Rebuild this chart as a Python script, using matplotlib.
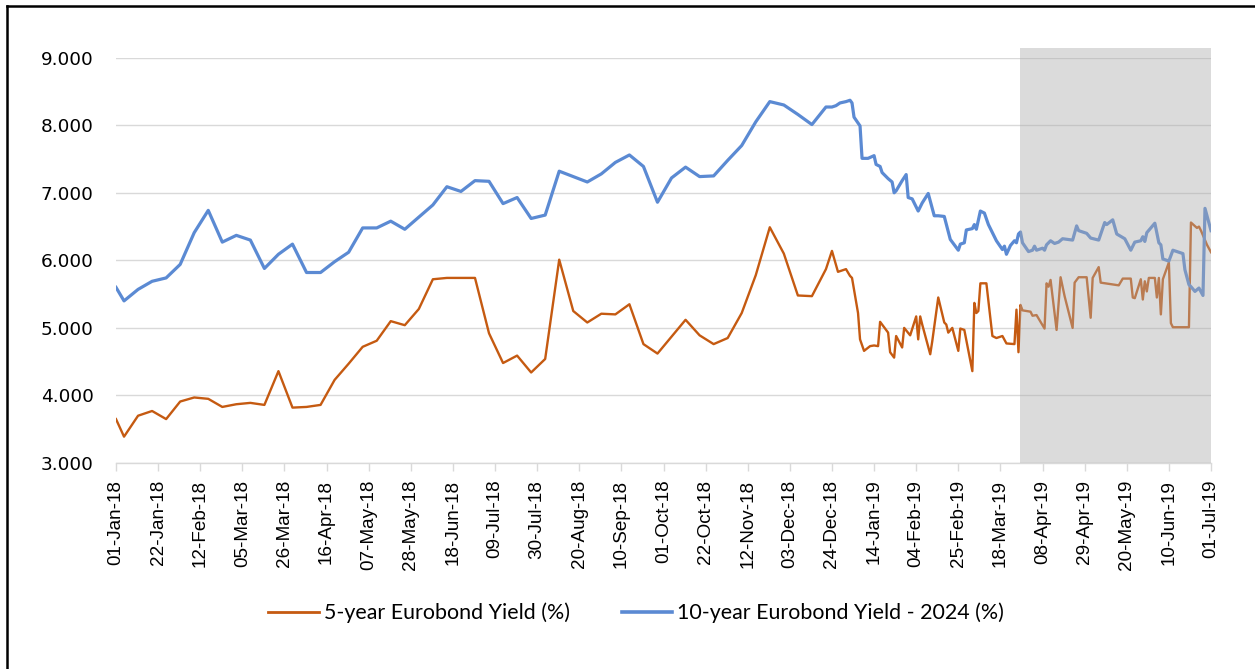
import matplotlib
matplotlib.use("Agg")
import matplotlib.pyplot as plt
import matplotlib.dates as mdates
from matplotlib.lines import Line2D
from matplotlib.patches import Rectangle
import pandas as pd

# ---------------- data ----------------
weekly_dates = [
    "2018-01-01", "2018-01-05", "2018-01-12", "2018-01-19", "2018-01-26",
    "2018-02-02", "2018-02-09", "2018-02-16", "2018-02-23",
    "2018-03-02", "2018-03-09", "2018-03-16", "2018-03-23", "2018-03-30",
    "2018-04-06", "2018-04-13", "2018-04-20", "2018-04-27",
    "2018-05-04", "2018-05-11", "2018-05-18", "2018-05-25",
    "2018-06-01", "2018-06-08", "2018-06-15", "2018-06-22", "2018-06-29",
    "2018-07-06", "2018-07-13", "2018-07-20", "2018-07-27",
    "2018-08-03", "2018-08-10", "2018-08-17", "2018-08-24", "2018-08-31",
    "2018-09-07", "2018-09-14", "2018-09-21", "2018-09-28",
    "2018-10-05", "2018-10-12", "2018-10-19", "2018-10-26",
    "2018-11-02", "2018-11-09", "2018-11-16", "2018-11-23", "2018-11-30",
    "2018-12-07", "2018-12-14", "2018-12-21",
]
yield10_weekly = [
    5.60, 5.40, 5.57, 5.69, 5.74, 5.94, 6.41, 6.74, 6.27, 6.37,
    6.30, 5.88, 6.09, 6.24, 5.82, 5.82, 5.98, 6.12, 6.48, 6.48,
    6.58, 6.46, 6.64, 6.82, 7.09, 7.02, 7.18,
    7.17, 6.84, 6.93, 6.62, 6.67, 7.32, 7.24, 7.16, 7.28, 7.45,
    7.56, 7.39, 6.86, 7.22, 7.38, 7.24, 7.25, 7.48, 7.70, 8.05,
    8.35, 8.30, 8.16, 8.01, 8.27,
]
yield5_weekly = [
    3.65, 3.39, 3.70, 3.77, 3.65, 3.91, 3.97, 3.95, 3.83, 3.87,
    3.89, 3.86, 4.36, 3.82, 3.83, 3.86, 4.23, 4.47, 4.72, 4.81,
    5.10, 5.04, 5.28, 5.72, 5.74, 5.74, 5.74,
    4.92, 4.48, 4.59, 4.34, 4.54, 6.01, 5.25, 5.08, 5.21, 5.20,
    5.35, 4.76, 4.62, 4.87, 5.12, 4.89, 4.76, 4.85, 5.22, 5.78,
    6.49, 6.10, 5.48, 5.47, 5.87,
]

yield10_daily_dates = [
    "2018-12-24", "2018-12-26", "2018-12-28", "2018-12-31",
    "2019-01-02", "2019-01-03", "2019-01-04", "2019-01-07", "2019-01-08",
    "2019-01-11", "2019-01-14", "2019-01-15", "2019-01-17", "2019-01-18",
    "2019-01-21", "2019-01-23", "2019-01-24", "2019-01-25", "2019-01-28",
    "2019-01-30", "2019-01-31", "2019-02-02", "2019-02-05", "2019-02-07",
    "2019-02-10", "2019-02-13", "2019-02-15", "2019-02-18", "2019-02-21",
    "2019-02-25", "2019-02-26", "2019-02-28", "2019-03-01", "2019-03-04",
    "2019-03-05", "2019-03-06", "2019-03-08", "2019-03-10", "2019-03-12",
    "2019-03-14", "2019-03-16", "2019-03-19", "2019-03-20", "2019-03-21",
    "2019-03-23", "2019-03-25", "2019-03-26", "2019-03-27", "2019-03-28",
    "2019-03-29", "2019-04-01", "2019-04-03", "2019-04-04", "2019-04-05",
    "2019-04-08", "2019-04-09", "2019-04-10", "2019-04-12", "2019-04-14",
    "2019-04-16", "2019-04-18", "2019-04-23", "2019-04-25", "2019-04-26",
    "2019-04-30", "2019-05-02", "2019-05-06", "2019-05-09", "2019-05-10",
    "2019-05-13", "2019-05-15", "2019-05-19", "2019-05-22", "2019-05-24",
    "2019-05-27", "2019-05-28", "2019-05-29", "2019-05-30", "2019-06-03",
    "2019-06-05", "2019-06-06", "2019-06-07", "2019-06-10", "2019-06-12",
    "2019-06-17", "2019-06-18", "2019-06-20", "2019-06-21", "2019-06-23",
    "2019-06-25", "2019-06-27", "2019-06-28", "2019-07-01",
]
yield10_daily = [
    8.27, 8.29, 8.33, 8.35,
    8.37, 8.33, 8.12, 7.99, 7.51,
    7.51, 7.55, 7.42, 7.39, 7.30,
    7.21, 7.16, 7.00, 7.03, 7.18,
    7.27, 6.93, 6.91, 6.73, 6.85,
    6.99, 6.66, 6.66, 6.65, 6.31,
    6.15, 6.24, 6.26, 6.45, 6.47,
    6.53, 6.46, 6.73, 6.70, 6.53,
    6.41, 6.29, 6.16, 6.21, 6.09,
    6.22, 6.29, 6.26, 6.39, 6.42,
    6.26, 6.13, 6.15, 6.21, 6.15,
    6.18, 6.15, 6.23, 6.29, 6.25,
    6.27, 6.32, 6.30, 6.51, 6.44,
    6.40, 6.33, 6.30, 6.56, 6.53,
    6.60, 6.39, 6.32, 6.15, 6.27,
    6.29, 6.35, 6.28, 6.41, 6.55,
    6.26, 6.23, 6.02, 5.99, 6.15,
    6.10, 5.86, 5.64, 5.61, 5.54,
    5.59, 5.48, 6.77, 6.44,
]

yield5_daily_dates = [
    "2018-12-24", "2018-12-27", "2018-12-31",
    "2019-01-02", "2019-01-03", "2019-01-06", "2019-01-07", "2019-01-09",
    "2019-01-12", "2019-01-14", "2019-01-16", "2019-01-17", "2019-01-21",
    "2019-01-22", "2019-01-24", "2019-01-25", "2019-01-28", "2019-01-29",
    "2019-02-01", "2019-02-04", "2019-02-05", "2019-02-06", "2019-02-07",
    "2019-02-11", "2019-02-12", "2019-02-15", "2019-02-18", "2019-02-19",
    "2019-02-20", "2019-02-22", "2019-02-25", "2019-02-26", "2019-02-28",
    "2019-03-04", "2019-03-05", "2019-03-06", "2019-03-07", "2019-03-08",
    "2019-03-11", "2019-03-14", "2019-03-16", "2019-03-19", "2019-03-21",
    "2019-03-25", "2019-03-26", "2019-03-27", "2019-03-28", "2019-03-29",
    "2019-04-02", "2019-04-03", "2019-04-05", "2019-04-09", "2019-04-10",
    "2019-04-11", "2019-04-12", "2019-04-15", "2019-04-17", "2019-04-19",
    "2019-04-23", "2019-04-24", "2019-04-26", "2019-04-30", "2019-05-02",
    "2019-05-03", "2019-05-06", "2019-05-07", "2019-05-16", "2019-05-18",
    "2019-05-22", "2019-05-23", "2019-05-24", "2019-05-27", "2019-05-28",
    "2019-05-29", "2019-05-30", "2019-05-31", "2019-06-03", "2019-06-04",
    "2019-06-05", "2019-06-06", "2019-06-07", "2019-06-10", "2019-06-11",
    "2019-06-12", "2019-06-20", "2019-06-21", "2019-06-24", "2019-06-25",
    "2019-06-26", "2019-06-29", "2019-07-01",
]
yield5_daily = [
    6.14, 5.83, 5.87,
    5.77, 5.74, 5.22, 4.83, 4.66,
    4.73, 4.74, 4.73, 5.09, 4.93,
    4.64, 4.56, 4.88, 4.71, 5.00,
    4.89, 5.17, 4.83, 5.17, 5.05,
    4.61, 4.80, 5.45, 5.08, 5.05,
    4.93, 5.00, 4.66, 4.99, 4.97,
    4.36, 5.37, 5.22, 5.25, 5.66,
    5.66, 4.88, 4.85, 4.88, 4.77,
    4.76, 5.27, 4.64, 5.34, 5.26,
    5.24, 5.18, 5.19, 4.99, 5.66,
    5.61, 5.71, 4.97, 5.75, 5.47,
    5.00, 5.67, 5.75, 5.75, 5.15,
    5.74, 5.90, 5.67, 5.63, 5.73,
    5.73, 5.45, 5.44, 5.72, 5.42,
    5.69, 5.54, 5.74, 5.74, 5.45,
    5.74, 5.20, 5.72, 5.97, 5.07,
    5.01, 5.01, 6.56, 6.48, 6.50,
    6.44, 6.23, 6.12,
]

x_tick_labels = [
    "01-Jan-18", "22-Jan-18", "12-Feb-18", "05-Mar-18", "26-Mar-18", "16-Apr-18",
    "07-May-18", "28-May-18", "18-Jun-18", "09-Jul-18", "30-Jul-18", "20-Aug-18",
    "10-Sep-18", "01-Oct-18", "22-Oct-18", "12-Nov-18", "03-Dec-18", "24-Dec-18",
    "14-Jan-19", "04-Feb-19", "25-Feb-19", "18-Mar-19", "08-Apr-19", "29-Apr-19",
    "20-May-19", "10-Jun-19", "01-Jul-19",
]
y_ticks = [3, 4, 5, 6, 7, 8, 9]
highlight_start = "2019-03-28"
highlight_end = "2019-07-01"

label5 = "5-year Eurobond Yield (%)"
label10 = "10-year Eurobond Yield - 2024 (%)"

# ---------------- figure ----------------
W, H = 1255, 669
fig = plt.figure(figsize=(W / 100, H / 100), dpi=100)
ax = fig.add_axes([116 / W, 1 - 463 / H, (1211 - 116) / W, (463 - 57.7) / H])

c5 = "#C55A11"
c10 = "#5B8AD3"

d5 = pd.to_datetime(weekly_dates + yield5_daily_dates)
v5 = yield5_weekly + yield5_daily
d10 = pd.to_datetime(weekly_dates + yield10_daily_dates)
v10 = yield10_weekly + yield10_daily

ax.plot(d5, v5, color=c5, lw=1.7, zorder=3, solid_joinstyle="round")
ax.plot(d10, v10, color=c10, lw=2.3, zorder=3, solid_joinstyle="round")

x0 = pd.Timestamp("2018-01-01")
x1 = pd.Timestamp("2019-07-01")
ax.set_xlim(x0, x1)
ax.set_ylim(3, 9)

# shaded (semi-transparent) region drawn over the lines
hs = mdates.date2num(pd.Timestamp(highlight_start))
he = mdates.date2num(pd.Timestamp(highlight_end))
rect = Rectangle((hs, 3), he - hs, 9.14 - 3, facecolor="#ABABAB", alpha=0.42,
                 edgecolor="none", zorder=5, clip_on=False)
ax.add_patch(rect)

# grid / ticks
ax.set_yticks(y_ticks)
ax.set_yticklabels([f"{t:.3f}" for t in y_ticks], fontsize=13.3,
                   family="DejaVu Sans", color="#000000")
ax.yaxis.grid(True, color="#D9D9D9", lw=1.0, zorder=0)
ax.set_axisbelow(True)
ax.tick_params(axis="y", length=0, pad=16)

tick_pos = pd.to_datetime(x_tick_labels, format="%d-%b-%y")
ax.set_xticks(tick_pos)
ax.set_xticklabels(x_tick_labels, rotation=90, fontsize=13.6,
                   family="Liberation Sans", color="#000000")
ax.tick_params(axis="x", length=6, width=1.0, color="#D9D9D9", pad=6)

for s in ["top", "right", "left"]:
    ax.spines[s].set_visible(False)
ax.spines["bottom"].set_color("#D9D9D9")
ax.spines["bottom"].set_linewidth(1.0)

# legend
handles = [Line2D([], [], color=c5, lw=2.0), Line2D([], [], color=c10, lw=2.6)]
fig.legend(handles, [label5, label10], ncol=2, frameon=False,
           loc="center left", bbox_to_anchor=(268 / W, 1 - 613 / H),
           prop={"family": "Lato", "size": 15.4},
           handlelength=2.38, handletextpad=0.22, columnspacing=2.43,
           borderpad=0, borderaxespad=0)

# outer border (left and top only)
fig.add_artist(Line2D([7 / W, 7 / W], [0, 1 - 6 / H], transform=fig.transFigure,
                      color="black", lw=1.8))
fig.add_artist(Line2D([7 / W, 1], [1 - 6 / H, 1 - 6 / H], transform=fig.transFigure,
                      color="black", lw=1.8))

fig.savefig("out.png", dpi=100, facecolor="white")
